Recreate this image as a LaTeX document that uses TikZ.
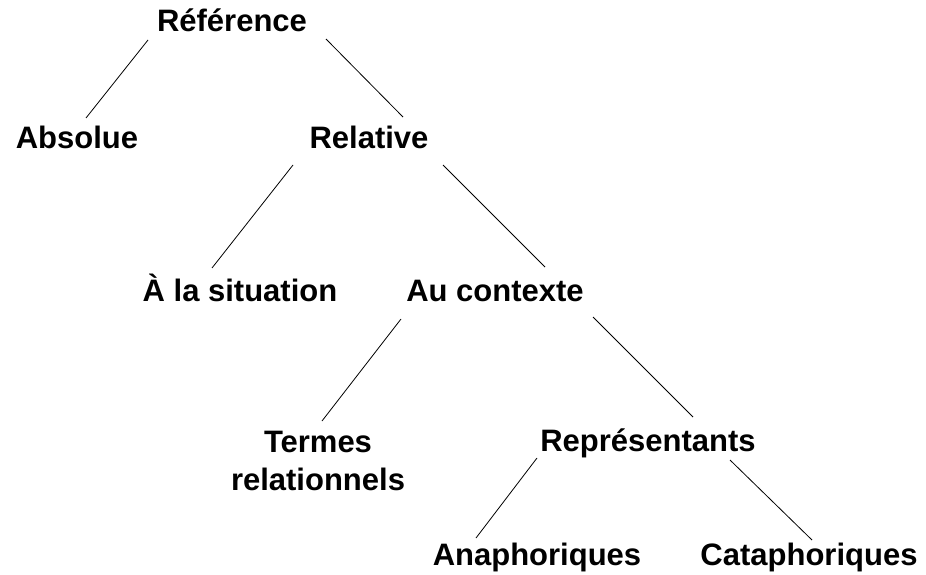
\documentclass[tikz,border=0pt]{standalone}
\usepackage{fontspec}
\setmainfont{Liberation Sans}
\begin{document}
\begin{tikzpicture}[x=1pt,y=-1pt,
  lbl/.style={anchor=base,inner sep=0pt,font=\fontsize{31}{38}\selectfont\bfseries},
  link/.style={line width=0.8pt,draw=black}]
\useasboundingbox (0,0) rectangle (926,575);
\node[lbl] (ref) at (232,32) {Référence};
\node[lbl] (abs) at (77,148) {Absolue};
\node[lbl] (rel) at (369,148) {Relative};
\node[lbl] (sit) at (240,301) {À la situation};
\node[lbl] (ctx) at (495,301) {Au contexte};
\node[lbl] (ter) at (318,452) {\begin{tabular}[t]{@{}c@{}}Termes\\relationnels\end{tabular}};
\node[lbl] (rep) at (648,451) {Représentants};
\node[lbl] (ana) at (537,565) {Anaphoriques};
\node[lbl] (cat) at (809,565) {Cataphoriques};
\draw[link] ([shift={(-84,8)}]ref.base) -- ([shift={(9,-30)}]abs.base);
\draw[link] ([shift={(94,7)}]ref.base) -- ([shift={(34,-31)}]rel.base);
\draw[link] ([shift={(-76,17)}]rel.base) -- ([shift={(-28,-33)}]sit.base);
\draw[link] ([shift={(74,17)}]rel.base) -- ([shift={(50,-34)}]ctx.base);
\draw[link] ([shift={(-94,18)}]ctx.base) -- ([shift={(4,-31)}]ter.base);
\draw[link] ([shift={(98,16)}]ctx.base) -- ([shift={(45,-34)}]rep.base);
\draw[link] ([shift={(-111,7)}]rep.base) -- ([shift={(-61,-27)}]ana.base);
\draw[link] ([shift={(82,9)}]rep.base) -- ([shift={(3,-25)}]cat.base);
\end{tikzpicture}
\end{document}
